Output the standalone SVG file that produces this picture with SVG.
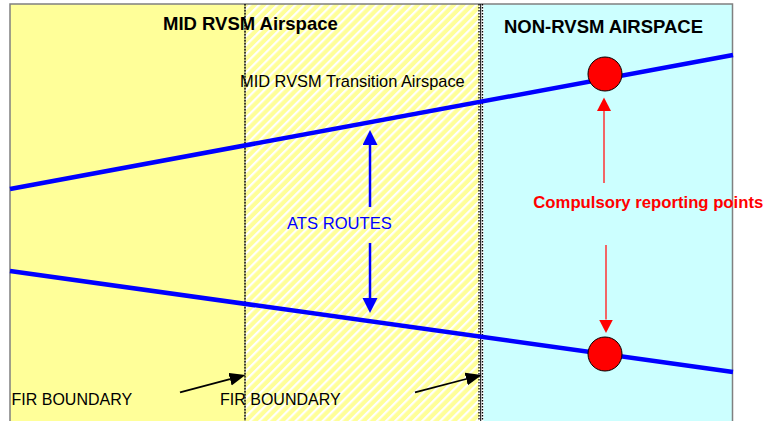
<svg xmlns="http://www.w3.org/2000/svg" width="767" height="421" viewBox="0 0 767 421">
  <style>
    text { font-family: "Liberation Sans", Arial, sans-serif; }
    .title { font-size: 18.5px; font-weight: bold; fill: #000; }
    .label { font-size: 16px; fill: #000; }
    .route { stroke: #0000FF; stroke-width: 4.5; fill: none; }
    .boundary-dot { stroke: #000; stroke-width: 1.3; stroke-dasharray: 1.5 1.5; fill: none; }
    .frame { stroke: #808080; stroke-width: 1.5; fill: none; }
    .point { fill: #FF0000; stroke: #000; stroke-width: 1; }
  </style>
  <defs>
    <pattern id="hatch" patternUnits="userSpaceOnUse" width="6.4" height="6.4" patternTransform="rotate(45)">
      <rect width="6.4" height="6.4" fill="#FFFF99"/>
      <rect width="2.2" height="6.4" fill="#FFFFFF"/>
    </pattern>
    <marker id="headBlue" markerUnits="userSpaceOnUse" markerWidth="16" markerHeight="16" refX="0" refY="7.5" orient="auto">
      <path d="M0,0 L15,7.5 L0,15 z" fill="#0000FF"/>
    </marker>
    <marker id="headRed" markerUnits="userSpaceOnUse" markerWidth="15" markerHeight="15" refX="0" refY="7" orient="auto">
      <path d="M0,0 L13.5,7 L0,14 z" fill="#FF0000"/>
    </marker>
    <marker id="headBlack" markerUnits="userSpaceOnUse" markerWidth="17" markerHeight="14" refX="0" refY="6.5" orient="auto">
      <path d="M0,0 L16,6.5 L0,13 z" fill="#000"/>
    </marker>
  </defs>

  <rect width="767" height="421" fill="#FFFFFF"/>

  <!-- airspace areas -->
  <g id="mid-rvsm-airspace">
    <rect x="10" y="4" width="235" height="417" fill="#FFFF99"/>
  </g>
  <g id="transition-airspace">
    <rect x="245" y="4" width="234" height="417" fill="url(#hatch)"/>
  </g>
  <g id="non-rvsm-airspace">
    <rect x="479" y="4" width="5" height="417" fill="#FFFFFF"/>
    <rect x="483.5" y="4" width="249" height="417" fill="#CCFFFF"/>
  </g>

  <!-- outer frame -->
  <path class="frame" d="M10,421 V4 H732.5 V421"/>

  <!-- FIR boundaries -->
  <g id="fir-boundary-west">
    <line x1="245" y1="4" x2="245" y2="421" stroke="#555" stroke-width="0.8"/>
    <line class="boundary-dot" x1="245" y1="4" x2="245" y2="421"/>
  </g>
  <g id="fir-boundary-east">
    <line class="boundary-dot" x1="479" y1="4" x2="479" y2="421"/>
    <line x1="480.7" y1="4" x2="480.7" y2="421" stroke="#000" stroke-width="1"/>
    <line class="boundary-dot" x1="482.5" y1="4" x2="482.5" y2="421"/>
  </g>

  <!-- routes and arrows -->
  <g id="connectors">
    <line class="route" x1="10" y1="189" x2="733" y2="55"/>
    <line class="route" x1="10" y1="271" x2="733" y2="372"/>
    <line x1="370" y1="207" x2="370" y2="145" stroke="#0000FF" stroke-width="2.5" marker-end="url(#headBlue)"/>
    <line x1="370" y1="243" x2="370" y2="298" stroke="#0000FF" stroke-width="2.5" marker-end="url(#headBlue)"/>
    <line x1="604" y1="183" x2="604" y2="111" stroke="#FF3333" stroke-width="1.5" marker-end="url(#headRed)"/>
    <line x1="606" y1="245" x2="606" y2="319.5" stroke="#FF3333" stroke-width="1.5" marker-end="url(#headRed)"/>
    <line x1="180" y1="392.3" x2="230" y2="379.1" stroke="#000" stroke-width="1.8" marker-end="url(#headBlack)"/>
    <line x1="415" y1="392.3" x2="466.2" y2="379" stroke="#000" stroke-width="1.8" marker-end="url(#headBlack)"/>
  </g>

  <!-- compulsory reporting points -->
  <g id="reporting-point-upper">
    <circle class="point" cx="605" cy="74" r="17"/>
  </g>
  <g id="reporting-point-lower">
    <circle class="point" cx="605" cy="354" r="17"/>
  </g>

  <!-- labels -->
  <g id="label-mid">
    <text class="title" x="163" y="30">MID RVSM Airspace</text>
  </g>
  <g id="label-non">
    <text class="title" x="504" y="33">NON-RVSM AIRSPACE</text>
  </g>
  <g id="label-transition">
    <text class="label" x="240" y="86.5" style="font-size:16.4px">MID RVSM Transition Airspace</text>
  </g>
  <g id="label-ats">
    <text class="label" x="287" y="229" style="fill:#0000FF;font-size:16.6px">ATS ROUTES</text>
  </g>
  <g id="label-reporting">
    <text x="533.3" y="208.3" font-size="16.7" font-weight="bold" style="fill:#FF0000">Compulsory reporting points</text>
  </g>
  <g id="label-fir-west">
    <text class="label" x="11.5" y="405">FIR BOUNDARY</text>
  </g>
  <g id="label-fir-east">
    <text class="label" x="220" y="405">FIR BOUNDARY</text>
  </g>
</svg>
